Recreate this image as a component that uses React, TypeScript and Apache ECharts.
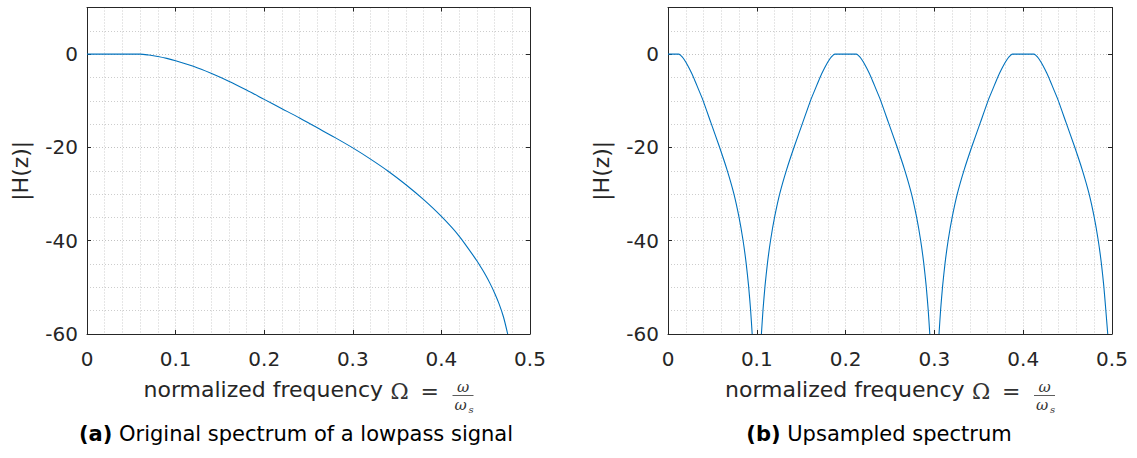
import React, { useEffect, useRef } from "react";
import * as echarts from "echarts";

// ---- data ----
const LEFT_X = [0, 0.02, 0.04, 0.06, 0.07, 0.08, 0.09, 0.1, 0.12, 0.14, 0.16, 0.18, 0.2, 0.22, 0.24, 0.26, 0.28, 0.3, 0.32, 0.34, 0.36, 0.38, 0.4, 0.42, 0.44, 0.445, 0.45, 0.455, 0.46, 0.465, 0.47, 0.4748];
const LEFT_Y = [0, 0, 0, 0, -0.2, -0.5, -0.9, -1.4, -2.6, -4.1, -5.8, -7.7, -9.7, -11.7, -13.7, -15.8, -17.9, -20.1, -22.5, -25.1, -28.0, -31.2, -34.8, -39.0, -44.3, -45.8, -47.4, -49.2, -51.2, -53.5, -56.3, -60];

const RIGHT_X = [
  0, 0.012, 0.014, 0.016, 0.018, 0.02, 0.024, 0.0288, 0.034, 0.0392, 0.0485, 0.0578, 0.0665, 0.074, 0.0798, 0.0844, 0.088, 0.0908, 0.093, 0.0948,
  0.1,
  0.1052, 0.107, 0.1092, 0.112, 0.1156, 0.1202, 0.126, 0.1335, 0.1422, 0.1515, 0.1608, 0.166, 0.1712, 0.176, 0.18, 0.182, 0.184, 0.186, 0.188,
  0.212, 0.214, 0.216, 0.218, 0.22, 0.224, 0.2288, 0.234, 0.2392, 0.2485, 0.2578, 0.2665, 0.274, 0.2798, 0.2844, 0.288, 0.2908, 0.293, 0.2948,
  0.3,
  0.3052, 0.307, 0.3092, 0.312, 0.3156, 0.3202, 0.326, 0.3335, 0.3422, 0.3515, 0.3608, 0.366, 0.3712, 0.376, 0.38, 0.382, 0.384, 0.386, 0.388,
  0.412, 0.414, 0.416, 0.418, 0.42, 0.424, 0.4288, 0.434, 0.4392, 0.4485, 0.4578, 0.4665, 0.474, 0.4798, 0.4844, 0.488, 0.4908, 0.493, 0.4952,
];
const RIGHT_Y = [
  0, 0, -0.2, -0.6, -1.1, -1.7, -3.1, -5.0, -7.4, -9.8, -14.8, -19.8, -24.8, -29.8, -34.8, -39.8, -44.8, -49.8, -54.8, -60,
  null,
  -60, -54.8, -49.8, -44.8, -39.8, -34.8, -29.8, -24.8, -19.8, -14.8, -9.8, -7.4, -5.0, -3.1, -1.7, -1.1, -0.6, -0.2, 0,
  0, -0.2, -0.6, -1.1, -1.7, -3.1, -5.0, -7.4, -9.8, -14.8, -19.8, -24.8, -29.8, -34.8, -39.8, -44.8, -49.8, -54.8, -60,
  null,
  -60, -54.8, -49.8, -44.8, -39.8, -34.8, -29.8, -24.8, -19.8, -14.8, -9.8, -7.4, -5.0, -3.1, -1.7, -1.1, -0.6, -0.2, 0,
  0, -0.2, -0.6, -1.1, -1.7, -3.1, -5.0, -7.4, -9.8, -14.8, -19.8, -24.8, -29.8, -34.8, -39.8, -44.8, -49.8, -54.8, -60,
];

const X_MIN = 0;
const X_MAX = 0.5;
const X_STEP = 0.1;
const Y_MIN = -60;
const Y_MAX = 10;
const Y_STEP = 20;

const Y_NAME = "|H(z)|";
const X_NAME_TEXT = "normalized frequency";
const CAPTIONS = [
  { tag: "(a)", text: " Original spectrum of a lowpass signal" },
  { tag: "(b)", text: " Upsampled spectrum" },
];

// ---- layout ----
const W = 1137;
const H = 458;
const GRIDS = [
  { left: 87, width: 443 },
  { left: 668, width: 444 },
];
const GRID_TOP = 7.5;
const GRID_BOTTOM = 334;
const CAPTION_CX = [296, 879];

const AXIS_COLOR = "#262626";
const GRID_COLOR = "#c2c2c2";
const MINOR_COLOR = "#cdcdcd";
const LINE_COLOR = "#0072BD";
const SANS = '"DejaVu Sans", sans-serif';
const SERIF = '"DejaVu Serif", serif';

function pairs(xs: number[], ys: (number | null)[]) {
  return xs.map((x, i) => [x, ys[i] === null ? "-" : ys[i]]);
}

function makeAxes(gi: number) {
  const dotted = { type: [1, 2] as any, width: 1 };
  const xMain = {
    type: "value",
    gridIndex: gi,
    position: "bottom",
    min: X_MIN,
    max: X_MAX,
    interval: X_STEP,
    axisLine: { show: true, onZero: false, lineStyle: { color: AXIS_COLOR, width: 1 } },
    axisTick: { show: true, inside: true, length: 4, lineStyle: { color: AXIS_COLOR } },
    axisLabel: { show: true, margin: 15, fontSize: 20, fontFamily: SANS, color: AXIS_COLOR },
    splitLine: { show: true, lineStyle: { ...dotted, color: GRID_COLOR } },
    minorTick: { show: false, splitNumber: 5 },
    minorSplitLine: { show: true, lineStyle: { ...dotted, color: MINOR_COLOR } },
  };
  const xTop = {
    type: "value",
    gridIndex: gi,
    position: "top",
    min: X_MIN,
    max: X_MAX,
    interval: X_STEP,
    axisLine: { show: true, onZero: false, lineStyle: { color: AXIS_COLOR, width: 1 } },
    axisTick: { show: true, inside: true, length: 4, lineStyle: { color: AXIS_COLOR } },
    axisLabel: { show: false },
    splitLine: { show: false },
  };
  const yMain = {
    type: "value",
    gridIndex: gi,
    position: "left",
    min: Y_MIN,
    max: Y_MAX,
    interval: Y_STEP,
    name: Y_NAME,
    nameLocation: "middle",
    nameRotate: 90,
    nameGap: 56,
    nameTextStyle: { fontSize: 22, fontFamily: SANS, color: AXIS_COLOR },
    axisLine: { show: true, onZero: false, lineStyle: { color: AXIS_COLOR, width: 1 } },
    axisTick: { show: true, inside: true, length: 4, lineStyle: { color: AXIS_COLOR } },
    axisLabel: { show: true, margin: 9, fontSize: 20, fontFamily: SANS, color: AXIS_COLOR, showMaxLabel: false },
    splitLine: { show: true, lineStyle: { ...dotted, color: GRID_COLOR } },
    minorTick: { show: false, splitNumber: 4 },
    minorSplitLine: { show: true, lineStyle: { ...dotted, color: MINOR_COLOR } },
  };
  const yRight = {
    type: "value",
    gridIndex: gi,
    position: "right",
    min: Y_MIN,
    max: Y_MAX,
    interval: Y_STEP,
    axisLine: { show: true, onZero: false, lineStyle: { color: AXIS_COLOR, width: 1 } },
    axisTick: { show: true, inside: true, length: 4, lineStyle: { color: AXIS_COLOR } },
    axisLabel: { show: false },
    splitLine: { show: false },
  };
  return { xs: [xMain, xTop], ys: [yMain, yRight] };
}

function xLabelGraphics(cx: number) {
  const x0 = cx - 165;
  const mathColor = "#333333";
  return [
    {
      type: "text",
      x: x0,
      y: 389,
      style: { text: X_NAME_TEXT, font: `22px ${SANS}`, fill: AXIS_COLOR, textAlign: "left", textVerticalAlign: "middle", align: "left", verticalAlign: "middle" },
    },
    {
      type: "text",
      x: x0 + 247,
      y: 391,
      style: { text: "Ω", font: `22px ${SERIF}`, fill: mathColor, textAlign: "left", textVerticalAlign: "middle", align: "left", verticalAlign: "middle" },
    },
    {
      type: "text",
      x: x0 + 277,
      y: 391,
      style: { text: "=", font: `22px ${SERIF}`, fill: mathColor, textAlign: "left", textVerticalAlign: "middle", align: "left", verticalAlign: "middle" },
    },
    {
      type: "line",
      shape: { x1: x0 + 309, y1: 395.5, x2: x0 + 330, y2: 395.5 },
      style: { stroke: mathColor, lineWidth: 0.8 },
    },
    {
      type: "text",
      x: x0 + 319.5,
      y: 387,
      style: { text: "ω", font: `italic 15px ${SERIF}`, fill: mathColor, textAlign: "center", textVerticalAlign: "middle", align: "center", verticalAlign: "middle" },
    },
    {
      type: "text",
      x: x0 + 317,
      y: 405,
      style: { text: "ω", font: `italic 15px ${SERIF}`, fill: mathColor, textAlign: "center", textVerticalAlign: "middle", align: "center", verticalAlign: "middle" },
    },
    {
      type: "text",
      x: x0 + 325,
      y: 409,
      style: { text: "s", font: `italic 10px ${SERIF}`, fill: mathColor, textAlign: "left", textVerticalAlign: "middle", align: "left", verticalAlign: "middle" },
    },
  ];
}

function captionGraphic(i: number) {
  return {
    type: "text",
    x: CAPTION_CX[i],
    y: 434,
    style: {
      text: `{b|${CAPTIONS[i].tag}}${CAPTIONS[i].text}`,
      font: `21px ${SANS}`,
      fontSize: 21,
      fontFamily: SANS,
      fill: "#000000",
      textAlign: "center",
      textVerticalAlign: "middle",
      align: "center",
      verticalAlign: "middle",
      rich: { b: { fontWeight: "bold", fontSize: 21, fontFamily: SANS, fill: "#000000", color: "#000000" } },
    },
  };
}

export default function App() {
  const ref = useRef<HTMLDivElement>(null);
  useEffect(() => {
    if (!ref.current) return;
    const chart = echarts.init(ref.current, undefined, { renderer: "svg" });
    const a0 = makeAxes(0);
    const a1 = makeAxes(1);
    const option: any = {
      animation: false,
      backgroundColor: "#ffffff",
      grid: GRIDS.map((g) => ({
        left: g.left,
        width: g.width,
        top: GRID_TOP,
        height: GRID_BOTTOM - GRID_TOP,
        containLabel: false,
      })),
      xAxis: [...a0.xs, ...a1.xs],
      yAxis: [...a0.ys, ...a1.ys],
      series: [
        {
          type: "line",
          xAxisIndex: 0,
          yAxisIndex: 0,
          data: pairs(LEFT_X, LEFT_Y),
          showSymbol: false,
          smooth: 0.3,
          clip: true,
          lineStyle: { color: LINE_COLOR, width: 1.1 },
          itemStyle: { color: LINE_COLOR },
        },
        {
          type: "line",
          xAxisIndex: 2,
          yAxisIndex: 2,
          data: pairs(RIGHT_X, RIGHT_Y),
          showSymbol: false,
          connectNulls: false,
          smooth: 0.2,
          clip: true,
          lineStyle: { color: LINE_COLOR, width: 1.1 },
          itemStyle: { color: LINE_COLOR },
        },
      ],
      graphic: {
        elements: [
          ...xLabelGraphics(GRIDS[0].left + GRIDS[0].width / 2),
          ...xLabelGraphics(GRIDS[1].left + GRIDS[1].width / 2),
          captionGraphic(0),
          captionGraphic(1),
        ],
      },
    };
    chart.setOption(option);
    return () => chart.dispose();
  }, []);
  return (
    <div
      ref={ref}
      style={{ position: "absolute", left: 0, top: 0, width: W, height: H, background: "#fff" }}
    />
  );
}
